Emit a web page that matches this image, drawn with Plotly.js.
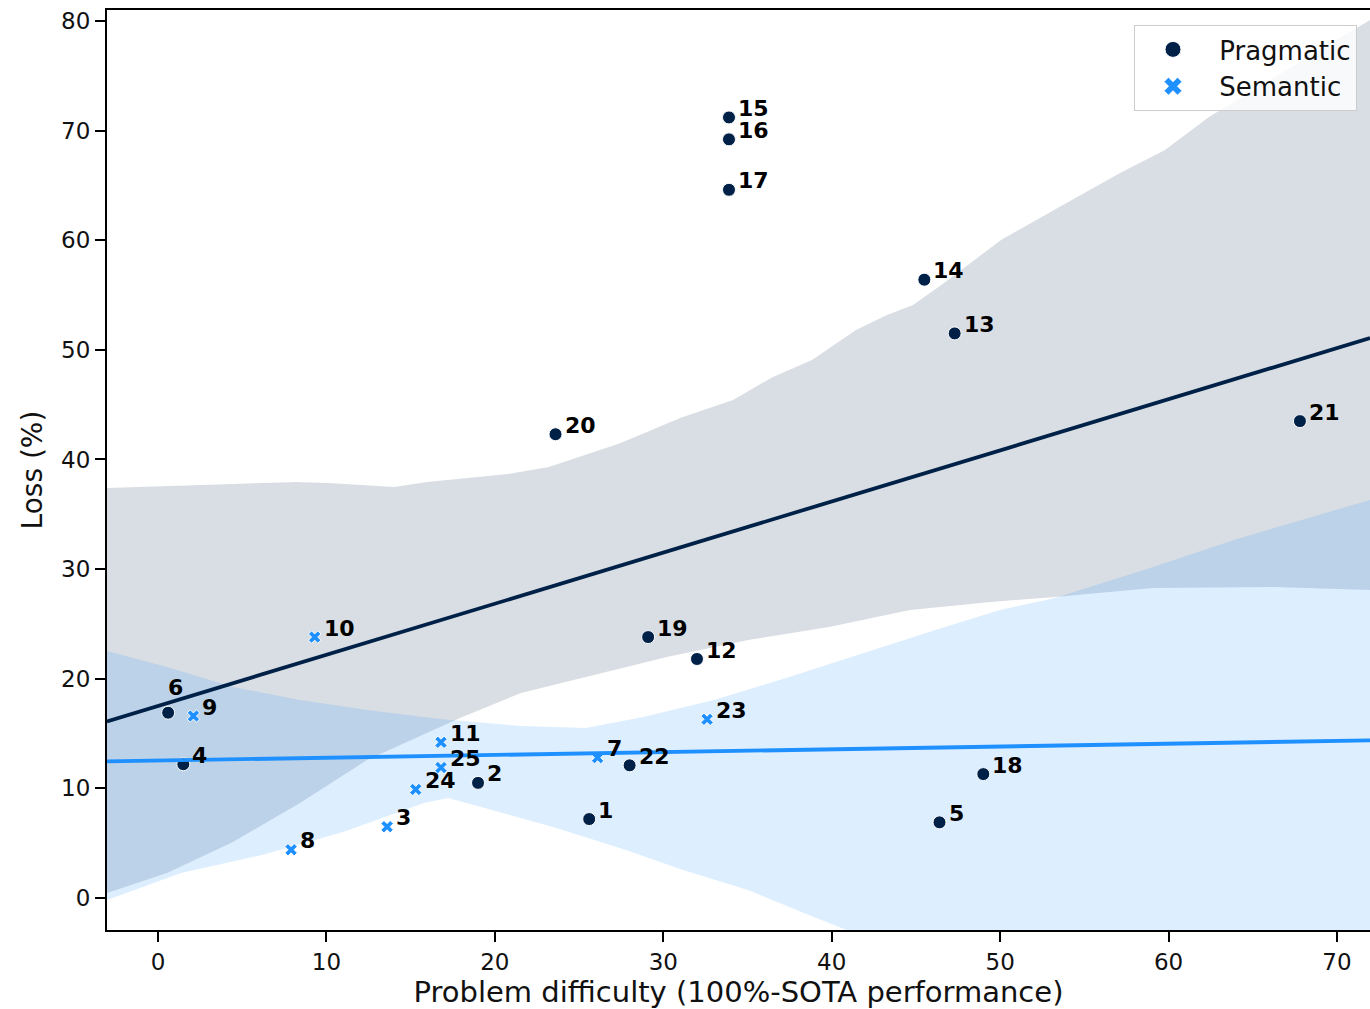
<!DOCTYPE html>
<html>
<head>
<meta charset="utf-8">
<script src="https://cdn.plot.ly/plotly-3.0.1.min.js"></script>
<style>html,body{margin:0;padding:0;background:#fff;}#chart{width:1370px;height:1009px;}</style>
</head>
<body>
<div id="chart"></div>
<script>
// ---- Data ----
const pragLabels = ['15','16','17','14','13','20','21','19','12','6','4','2','1','22','18','5'];
const pragX = [33.9, 33.9, 33.9, 45.5, 47.3, 23.6, 67.8, 29.1, 32.0, 0.6, 1.5, 19.0, 25.6, 28.0, 49.0, 46.4];
const pragY = [71.2, 69.2, 64.6, 56.4, 51.5, 42.3, 43.5, 23.8, 21.8, 16.9, 12.2, 10.5, 7.2, 12.1, 11.3, 6.9];

const semLabels = ['10','9','11','25','24','3','8','7','23'];
const semX = [9.3, 2.1, 16.8, 16.8, 15.3, 13.6, 7.9, 26.1, 32.6];
const semY = [23.8, 16.6, 14.2, 11.9, 9.9, 6.5, 4.4, 12.8, 16.3];

// 95% confidence band edges (bootstrapped in the original)
const pragBandUpperX = [-3.03, 2.61, 8.19, 10.15, 14.01, 15.97, 18.82, 20.78, 23.21, 25.65, 27.31, 29.03, 31.0, 34.14, 36.51, 38.83, 41.44, 43.28, 44.83, 46.67, 50.05, 53.2, 57.12, 59.79, 62.4, 67.8, 71.96];
const pragBandUpperY = [37.4, 37.67, 37.95, 37.86, 37.49, 37.95, 38.4, 38.68, 39.32, 40.59, 41.41, 42.51, 43.79, 45.43, 47.53, 49.08, 51.81, 53.18, 54.09, 56.1, 60.02, 62.76, 66.13, 68.23, 71.24, 76.26, 80.09];
const pragBandLowerX = [-3.03, 0.53, 4.45, 8.43, 12.41, 16.33, 17.93, 21.55, 25.41, 30.22, 35.03, 39.84, 44.65, 49.46, 53.26, 59.08, 66.26, 71.96];
const pragBandLowerY = [0.46, 2.28, 5.11, 8.67, 12.59, 15.32, 16.42, 18.7, 20.16, 21.98, 23.53, 24.72, 26.27, 27.0, 27.46, 28.28, 28.37, 28.1];

const semBandUpperX = [-3.03, 0.53, 4.45, 8.43, 12.41, 16.74, 21.49, 25.41, 28.8, 33.01, 37.29, 41.5, 45.78, 49.99, 53.26, 59.08, 63.88, 71.96];
const semBandUpperY = [22.53, 21.07, 19.25, 18.06, 17.15, 16.33, 15.69, 15.51, 16.51, 18.06, 20.07, 22.17, 24.26, 26.27, 27.37, 30.19, 32.66, 36.31];
const semBandLowerX = [-3.03, 1.37, 6.17, 10.98, 15.79, 17.22, 19.18, 23.45, 27.79, 31.17, 35.03, 38.35, 40.79, 50.0, 71.96];
const semBandLowerY = [-0.18, 2.28, 3.92, 6.02, 8.67, 9.12, 8.3, 6.48, 4.38, 2.55, 0.73, -1.37, -2.92, -8.5, -21.0];

const xTicks = [0, 10, 20, 30, 40, 50, 60, 70];
const yTicks = [0, 10, 20, 30, 40, 50, 60, 70, 80];
const seriesNames = ['Pragmatic', 'Semantic'];

// ---- Styling ----
const NAVY = '#002147';
const BLUE = '#1E90FF';
const XR = [-3.03, 71.96];
const YR = [-2.92, 81.0];
const FONT = 'DejaVu Sans, Verdana, sans-serif';

function ols(xs, ys) {
  const n = xs.length;
  const mx = xs.reduce((a, b) => a + b, 0) / n;
  const my = ys.reduce((a, b) => a + b, 0) / n;
  let sxy = 0, sxx = 0;
  for (let i = 0; i < n; i++) { sxy += (xs[i] - mx) * (ys[i] - my); sxx += (xs[i] - mx) ** 2; }
  const b = sxy / sxx;
  return { b: b, a: my - b * mx };
}
function band(ux, uy, lx, ly) {
  return { x: ux.concat(lx.slice().reverse()), y: uy.concat(ly.slice().reverse()) };
}
function hexA(hex, a) {
  const r = parseInt(hex.slice(1, 3), 16), g = parseInt(hex.slice(3, 5), 16), b = parseInt(hex.slice(5, 7), 16);
  return 'rgba(' + r + ',' + g + ',' + b + ',' + a + ')';
}

const pb = band(pragBandUpperX, pragBandUpperY, pragBandLowerX, pragBandLowerY);
const sb = band(semBandUpperX, semBandUpperY, semBandLowerX, semBandLowerY);
const pf = ols(pragX, pragY);
const sf = ols(semX, semY);
const PAD = '\u00a0';

const traces = [
  { x: pb.x, y: pb.y, type: 'scatter', mode: 'lines', fill: 'toself', fillcolor: hexA(NAVY, 0.15),
    line: { width: 0 }, hoverinfo: 'skip', showlegend: false },
  { x: sb.x, y: sb.y, type: 'scatter', mode: 'lines', fill: 'toself', fillcolor: hexA(BLUE, 0.15),
    line: { width: 0 }, hoverinfo: 'skip', showlegend: false },
  { x: pragX, y: pragY, type: 'scatter', mode: 'markers', name: seriesNames[0], showlegend: false,
    marker: { symbol: 'circle', size: 13, color: NAVY, line: { color: '#ffffff', width: 1 } } },
  { x: semX, y: semY, type: 'scatter', mode: 'markers', name: seriesNames[1], showlegend: false,
    marker: { symbol: 'x', size: 11, color: BLUE, line: { color: '#ffffff', width: 1 } } },
  { x: XR, y: XR.map(v => pf.a + pf.b * v), type: 'scatter', mode: 'lines', showlegend: false,
    line: { color: NAVY, width: 3.8 }, hoverinfo: 'skip' },
  { x: XR, y: XR.map(v => sf.a + sf.b * v), type: 'scatter', mode: 'lines', showlegend: false,
    line: { color: BLUE, width: 3.8 }, hoverinfo: 'skip' },
  // legend entries
  { x: [null], y: [null], type: 'scatter', mode: 'markers', name: PAD + seriesNames[0],
    marker: { symbol: 'circle', size: 18, color: NAVY, line: { color: '#ffffff', width: 1 } } },
  { x: [null], y: [null], type: 'scatter', mode: 'markers', name: PAD + seriesNames[1],
    marker: { symbol: 'x', size: 16, color: BLUE, line: { color: '#ffffff', width: 1 } } }
];

const special = { '6': { xanchor: 'center', xshift: 7, yshift: 25 } };
function makeAnn(labels, xs, ys) {
  return labels.map((t, i) => {
    const s = special[t] || { xanchor: 'left', xshift: 7, yshift: 9 };
    return { x: xs[i], y: ys[i], xref: 'x', yref: 'y', text: '<b>' + t + '</b>', showarrow: false,
      xanchor: s.xanchor, yanchor: 'middle', xshift: s.xshift, yshift: s.yshift,
      font: { family: FONT, size: 22, color: '#000000' } };
  });
}
const annotations = makeAnn(pragLabels, pragX, pragY).concat(makeAnn(semLabels, semX, semY));

const axisCommon = {
  showgrid: false, zeroline: false, showline: true, linecolor: '#000000', linewidth: 2, mirror: true,
  ticks: 'outside', ticklen: 10, tickwidth: 2, tickcolor: '#000000',
  tickfont: { family: FONT, size: 23, color: '#111111' }
};

const layout = {
  width: 1370, height: 1009,
  margin: { l: 107, r: 0, t: 10, b: 79 },
  paper_bgcolor: '#ffffff', plot_bgcolor: '#ffffff',
  font: { family: FONT },
  xaxis: Object.assign({}, axisCommon, {
    range: XR, tickvals: xTicks, ticktext: xTicks.map(String), automargin: false,
    title: { text: 'Problem difficulty (100%-SOTA performance)', font: { family: FONT, size: 29, color: '#111111' }, standoff: 6 }
  }),
  yaxis: Object.assign({}, axisCommon, {
    range: YR, tickvals: yTicks, ticktext: yTicks.map(String), automargin: false,
    title: { text: 'Loss (%)', font: { family: FONT, size: 28, color: '#111111' }, standoff: 10 }
  }),
  legend: {
    x: 0.9897, xanchor: 'right', y: 0.9837, yanchor: 'top',
    bgcolor: 'rgba(255,255,255,0.8)', bordercolor: '#cccccc', borderwidth: 1,
    font: { family: FONT, size: 26, color: '#111111' }, itemwidth: 66, tracegroupgap: 0
  },
  annotations: annotations,
  showlegend: true
};

Plotly.newPlot('chart', traces, layout, { displayModeBar: false, staticPlot: true });
</script>
</body>
</html>
